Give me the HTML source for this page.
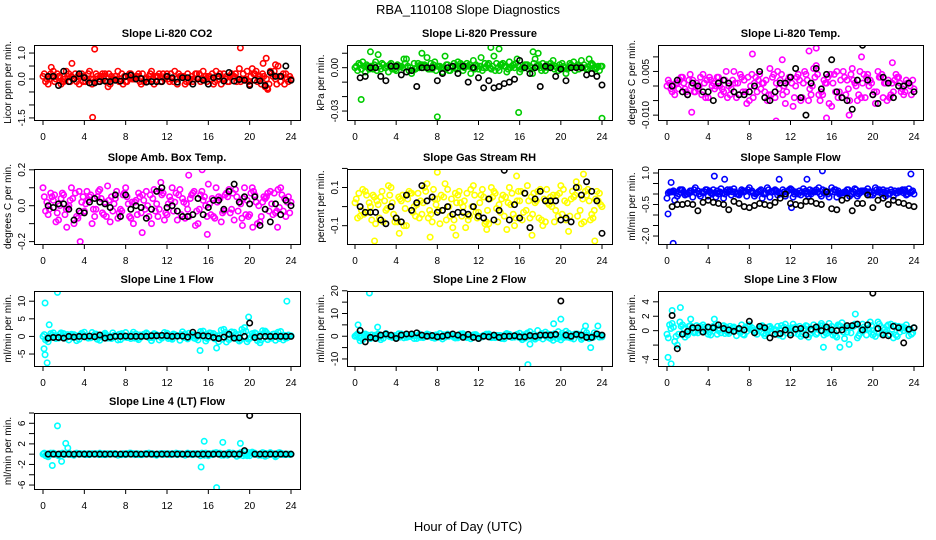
<!DOCTYPE html>
<html><head><meta charset="utf-8"><style>
html,body{margin:0;padding:0;background:#fff}
svg{display:block;font-family:"Liberation Sans",sans-serif}
</style></head><body>
<svg id="chart" width="936" height="540" viewBox="0 0 936 540">
<rect width="936" height="540" fill="#fff"/>
<text x="468" y="14" font-size="13" text-anchor="middle">RBA_110108  Slope Diagnostics</text>
<text x="468" y="531" font-size="13" text-anchor="middle">Hour of Day (UTC)</text>
</svg>
<script>
// ---- data: panel titles, y labels, colours ----
const titles = ["Slope Li-820 CO2","Slope Li-820 Pressure","Slope Li-820 Temp.","Slope Amb. Box Temp.","Slope Gas Stream RH","Slope Sample Flow","Slope Line 1 Flow","Slope Line 2 Flow","Slope Line 3 Flow","Slope Line 4 (LT) Flow"];
const yTitles = ["Licor ppm per min.","kPa per min.","degrees C per min.","degrees C per min.","percent per min.","ml/min per min.","ml/min per min.","ml/min per min.","ml/min per min.","ml/min per min."];
const colors = ["#ff0000","#00cc00","#ff00ff","#ff00ff","#ffff00","#0000ff","#00ffff","#00ffff","#00ffff","#00ffff"];
const xTicks = [0,4,8,12,16,20,24];
const yTicks = [[-1.5,-1,-0.5,0,0.5,1],[-0.03,-0.02,-0.01,0,0.01],[-0.01,-0.005,0,0.005,0.01],[-0.2,-0.1,0,0.1,0.2],[-0.1,0,0.1,0.2],[-2,-1.5,-1,-0.5,0,0.5,1],[-5,0,5,10],[-10,-5,0,5,10,15,20],[-4,-2,0,2,4],[-6,-4,-2,0,2,4,6,8]];
const yTickLabels = [["-1.5","","","0.0","","1.0"],["-0.03","","","0.00",""],["-0.010","","","0.005",""],["-0.2","","0.0","","0.2"],["-0.1","","0.1",""],["-2.0","","","-0.5","","","1.0"],["-5","0","5","10"],["-10","","0","","10","","20"],["-4","","0","2","4"],["-6","","-2","","2","","6",""]];
const yMin = [-1.58,-0.0362,-0.01167,-0.2134,-0.196,-2.38,-8.4,-13.1,-4.9,-6.77];
const yMax = [1.31,0.0157,0.01408,0.2045,0.197,1.19,12.9,19.9,5.5,8.0];

// ---- series: bandA at hours 0,0.5..24; bandB at 0.25..23.75; bandC at 0.125..; bandD at 0.375..; black at 0.5..24 ----
const bandA = [
[0.1,-0.2,0.3,0.1,-0.1,0.2,0.0,-0.2,0.1,0.3,-0.1,0.0,0.2,-0.2,0.1,0.0,-0.1,0.2,0.1,-0.2,0.0,0.3,0.1,-0.1,0.2,0.0,-0.2,0.1,0.2,-0.1,0.0,0.3,0.1,-0.2,0.0,0.2,-0.1,0.1,0.4,0.0,-0.2,0.2,0.1,-0.3,0.3,0.0,-0.1,0.2,0.0],
[0,0.002,-0.003,0.001,0.004,-0.001,0,0.003,-0.002,0.001,0.006,-0.004,0,0.002,0.007,-0.001,0.001,-0.003,0.002,0,0.004,-0.002,0.001,0.005,-0.001,0,0.003,0.008,-0.002,0.001,0.004,0,-0.003,0.002,0.001,0.006,0,-0.002,0.003,0.001,0,-0.004,0.002,0.001,0.005,-0.001,0.003,0,0.001],
[0,-0.002,0.001,0.003,-0.003,0.002,-0.001,0.004,-0.004,0.001,0.003,-0.002,0,0.005,-0.003,0.002,-0.005,0.001,0.004,-0.002,0.006,-0.004,0.002,-0.006,0.003,0,-0.005,0.004,-0.003,0.007,-0.002,0.001,-0.007,0.005,-0.004,0.002,0.006,-0.005,0.001,0.004,-0.003,0.005,-0.004,0.002,-0.002,0.003,-0.003,0.001,-0.001],
[0.1,-0.05,0.03,-0.08,0.06,0,-0.1,0.08,-0.03,0.05,-0.06,0.09,0.02,-0.09,0.04,-0.02,0.1,-0.07,0.03,-0.04,0.08,-0.1,0.01,0.06,-0.05,0.1,-0.08,0.04,-0.02,0.07,-0.1,0.03,0.12,-0.06,0.05,-0.03,0.09,-0.08,0.02,0.1,-0.05,0.06,-0.09,0.04,0.08,-0.04,0.1,-0.06,0.02],
[0.02,-0.05,0.08,0,-0.09,0.05,-0.02,0.1,-0.06,0.03,-0.1,0.07,0.01,-0.04,0.12,-0.08,0.04,-0.02,0.09,-0.11,0.06,0,-0.07,0.11,-0.03,0.05,-0.09,0.08,0.01,-0.05,0.1,-0.1,0.03,0.07,-0.06,0.02,0.09,-0.08,0.05,-0.02,0.11,-0.07,0.04,0.13,-0.09,0.06,-0.04,0.08,0],
[-0.2,0.1,-0.1,0.2,0,-0.15,0.15,0.05,-0.1,0.2,0,-0.2,0.1,0.25,-0.05,0.1,0.3,-0.1,0.15,0,-0.15,0.2,0.05,-0.1,0.25,0.1,-0.05,0.15,0,0.2,-0.1,0.1,0.3,-0.15,0.05,0.2,0,-0.1,0.15,0.25,-0.05,0.1,0.2,0,-0.1,0.15,0.05,0.25,0],
[0,-1.5,1,-0.5,0.8,-1,0.5,-0.8,1.2,-0.3,0.6,-1.1,0.9,-0.4,0.3,-0.9,1.1,-0.6,0.7,-0.2,1,-1.2,0.4,-0.5,0.9,-0.8,0.2,1.3,-0.7,0.5,-1,1.5,-0.4,0.8,-1.5,2,-0.9,1.2,-1.3,2.5,-0.6,1,-1.8,1.5,0.3,-1.1,1.4,-0.5,0.2],
[0,-2,1,-1,0.5,-1.5,1.2,0,-0.8,1,-0.5,0.8,-1,0.3,1,-0.6,0.5,-1.2,0.9,0,-0.7,1.1,-0.3,0.6,-1,0.4,1,-0.5,0.2,-1.1,0.8,-0.4,1.3,-0.9,2,-1.3,0.6,1.8,-1,0.5,-1.6,2.2,-0.8,1,-1.4,1.6,-0.5,0.9,-0.3],
[-0.5,1,-2,0.8,-0.6,0.5,-0.3,0.8,-0.5,0.6,0,0.7,-0.4,0.5,0.1,-0.6,0.8,-0.2,0.4,-0.7,0.6,0,-0.5,0.9,-0.3,0.5,-0.8,0.7,0.2,-0.5,1,-0.4,0.6,-0.9,1.1,-0.2,0.5,-1,0.9,0.3,-0.6,1.2,-0.3,0.8,-1,0.6,0,-0.7,0.4],
[0,-0.5,0.2,-0.3,0,0.2,-0.2,0,0.1,-0.1,0,0.2,-0.1,0,0.1,0,-0.1,0.2,0,-0.1,0.1,0,-0.2,0.1,0,0.1,-0.1,0,0.2,-0.1,0,0.1,-0.3,0.2,0,-0.2,0.3,0,-0.2,0.5,-0.3,0.2,0,-0.4,0.3,-0.5,0.2,-0.1,0]
];
const bandB = [
[-0.1,0.2,0.0,-0.2,0.3,0.1,-0.1,0.2,0.0,-0.2,0.1,0.2,-0.1,0.0,0.3,-0.2,0.1,0.0,0.2,-0.1,0.1,-0.2,0.2,0.0,-0.1,0.3,0.1,-0.2,0.0,0.2,-0.1,0.1,0.0,0.3,-0.2,0.1,0.2,-0.1,0.0,0.3,0.4,-0.1,0.2,-0.4,0.1,0.5,0.2,-0.1],
[-0.002,0.004,0.001,-0.001,0.009,0.002,-0.003,0,0.001,0.006,-0.002,0.003,0,0.002,-0.001,0.004,0.001,0.008,-0.002,0,0.003,0.001,-0.004,0.002,0.007,0,-0.001,0.003,0.002,-0.003,0.001,0.006,0,0.002,-0.004,0.001,0.003,0,0.005,-0.002,0.001,0,0.004,-0.001,0.002,0.006,0,-0.002],
[0.001,-0.003,0.002,-0.001,0.004,-0.002,0.003,-0.004,0.002,0,-0.003,0.005,-0.001,-0.004,0.003,-0.006,0.004,-0.002,0.001,-0.005,0.003,0.005,-0.003,0.002,-0.007,0.004,0.001,-0.005,0.006,-0.003,0.002,-0.006,0.004,-0.002,0.003,-0.005,0.001,0.005,-0.004,0.002,-0.006,0.003,0.001,-0.003,0.004,-0.002,0.002,-0.003],
[-0.03,0.07,-0.09,0.04,-0.02,0.1,-0.06,0.02,0.08,-0.1,0.05,-0.04,0.11,-0.03,-0.07,0.06,0.01,-0.1,0.07,0.03,-0.06,0.09,-0.02,-0.08,0.05,0.02,0.09,-0.07,0.04,-0.11,0.06,0,-0.05,0.1,-0.09,0.07,-0.02,0.05,-0.07,0.03,0.1,-0.1,0.02,0.07,-0.05,0.09,-0.03,0.05],
[-0.06,0.09,-0.03,0.06,0.01,-0.08,0.11,-0.04,0.05,-0.1,0.08,0,-0.06,0.1,-0.02,0.04,-0.09,0.12,-0.05,0.07,0.02,-0.11,0.09,-0.03,0.06,-0.08,0.1,-0.01,0.04,-0.12,0.07,0.03,-0.07,0.11,-0.04,0.08,-0.1,0.02,0.06,-0.05,0.09,-0.13,0.05,0.1,-0.08,0.03,-0.02,0.07],
[0.1,-0.3,0.2,-0.05,0.15,0.3,-0.1,0.2,0.05,-0.15,0.25,0.1,-0.05,0,0.2,-0.1,0.15,0.05,-0.2,0.3,0.1,-0.05,0.2,0.15,-0.15,0,0.25,-0.1,0.1,0.3,0.05,-0.15,0.2,0,0.1,-0.1,0.25,0.05,0.15,-0.05,0.3,0.1,-0.1,0.2,0.05,0.15,-0.05,0.1],
[-1,0.8,-0.6,1,-0.3,0.6,-1.2,0.9,-0.2,1.1,-0.8,0.3,-0.5,1,-1,0.4,-0.3,1.2,-0.9,0.6,-0.4,0.8,-1,1.1,-0.2,0.5,-1.1,0.7,0.2,-0.6,1.4,-1.3,0.9,-0.5,1.8,-1.6,1.3,-0.7,2,-1.5,0.8,-1.2,1.6,-0.9,0.6,1.2,-1,0.4],
[1,-1.5,0.5,-0.6,1,-0.9,0.4,-0.3,1.1,-0.7,0.2,-1,0.9,-0.2,0.6,-0.9,1.2,-0.4,0.3,-0.8,1,0,-1.1,0.7,-0.2,0.9,-0.6,0.4,-1,1.2,-0.5,0.8,-1.5,1.4,-0.7,2.5,-1.2,1,-1.8,2,-0.6,1.3,-1.2,0.8,2.3,-1,1.5,-0.4],
[0.8,-1.5,1.2,-0.9,0.7,-0.2,0.6,0,-0.6,0.9,-0.3,0.5,0.2,-0.7,0.8,-0.1,0.4,-0.5,0.7,0.1,-0.4,0.6,-0.8,0.3,0.9,-0.5,0.2,-0.9,0.8,0.4,-0.6,1,-0.3,0.7,-1.1,0.5,0.9,-0.4,0.2,1.2,-0.8,0.6,-0.2,0.9,-0.6,0.3,0.8,-0.5],
[-0.3,0.2,-0.1,0.1,0,-0.1,0.2,0,-0.1,0.1,0,-0.1,0.1,0,-0.2,0.1,0,0.1,-0.1,0,0.2,-0.1,0,0.1,-0.1,0,0.1,-0.2,0.1,0,-0.3,0.2,0,0.3,-0.2,0.1,0,-0.4,0.2,-0.3,0.4,-0.1,0.3,-0.2,0.1,0.2,-0.1,0]
];
const bandC = [
[0.2,0.0,-0.1,0.1,0.0,-0.1,0.2,0.1,-0.1,0.0,0.2,0.1,-0.1,0.1,0.0,0.2,-0.1,0.0,0.1,0.2,-0.1,0.0,0.1,0.2,0.0,-0.1,0.2,0.1,-0.1,0.0,0.2,0.0,0.1,-0.1,0.2,0.0,0.1,0.2,-0.1,0.0,0.1,0.3,-0.2,0.0,0.2,-0.2,0.1,0.0],
[0.001,-0.001,0.002,0,-0.002,0.003,0.001,-0.001,0.002,0,0.001,-0.002,0.003,0,-0.001,0.002,0.001,0,-0.002,0.003,0.001,0,0.002,-0.001,0.001,0.003,0,-0.002,0.002,0.001,0,0.003,-0.001,0.002,0,0.001,-0.002,0.002,0.001,0,0.003,-0.001,0.001,0.002,0,-0.001,0.002,0.001],
[0.002,0,-0.001,0.001,0.002,-0.002,0,0.001,0.003,-0.001,0,0.002,-0.003,0.001,0.004,-0.002,0,0.003,-0.001,0.002,-0.003,0.001,0.004,-0.002,0.001,0.003,-0.004,0.002,0,0.004,-0.003,0.003,0.001,-0.004,0.005,-0.001,0.002,-0.003,0.004,0,-0.002,0.003,0.001,-0.004,0.002,0.001,-0.002,0],
[0.05,-0.02,0.06,0,-0.05,0.03,0.07,-0.04,0.01,0.06,-0.02,0.04,-0.06,0.05,0.08,-0.03,0.05,0.02,-0.05,0.06,0,0.04,-0.06,0.07,0.01,-0.03,0.06,0.02,-0.06,0.08,-0.02,0.05,0.01,-0.07,0.04,0.06,-0.04,0.09,0.01,-0.05,0.07,0.02,-0.06,0.05,0.01,-0.03,0.06,0.02],
[0.04,-0.02,0.06,-0.07,0.03,0.08,-0.01,0.02,-0.08,0.06,0.04,-0.03,0.07,0.02,-0.06,0.09,-0.02,0.05,0,-0.07,0.08,0.03,-0.05,0.06,0.02,-0.09,0.04,0.07,-0.03,0.05,0.01,-0.06,0.08,-0.02,0.05,0.03,-0.07,0.09,0,0.06,-0.04,0.02,0.08,-0.05,0.04,0.09,-0.06,0.03],
[0.05,0.15,0,0.1,0.05,0.2,0,0.1,0.15,0.05,0.1,0,0.2,0.1,0.05,0.15,0.1,0,0.2,0.05,0.1,0.15,0,0.1,0.2,0.05,0.1,0,0.15,0.1,0.2,0,0.1,0.15,0.05,0.2,0.1,0,0.15,0.1,0.05,0.2,0.1,0,0.15,0.1,0.2,0.05],
[0.5,-0.4,0.2,0.6,-0.5,0.3,-0.2,0.5,0,-0.4,0.7,-0.1,0.4,-0.6,0.2,0.8,-0.3,0.5,-0.5,0.1,0.6,-0.4,0.3,0,-0.6,0.7,0.1,-0.3,0.9,-0.5,0.4,-0.2,1,-0.7,0.3,1.2,-0.4,0.6,-0.9,1.5,-0.3,0.8,-1,1.1,-0.5,0.5,0.2,-0.4],
[0.5,-0.8,0.3,0.6,-0.4,0.2,0.7,-0.5,0,0.6,-0.3,0.4,0.1,-0.6,0.5,0.2,-0.4,0.6,0,-0.5,0.4,0.3,-0.2,0.7,-0.4,0.1,0.5,-0.6,0.3,0.8,-0.2,0.5,-0.8,0.9,0.1,-0.6,1.2,-0.3,0.7,-1,1.3,-0.4,0.6,1,-0.7,0.4,-0.5,0.8],
[-1,0.5,-0.5,0.3,0.6,-0.3,0.2,0.5,-0.2,0.4,0.3,-0.4,0.6,0,-0.3,0.5,0.2,-0.2,0.6,-0.4,0.3,0.1,0.7,-0.3,0.4,0.2,-0.5,0.6,0,-0.3,0.7,0.2,-0.6,0.8,-0.2,0.4,0.6,-0.7,0.5,0.2,-0.4,0.9,0.1,-0.5,0.7,-0.2,0.4,0.2],
[0.2,-0.2,0.1,0,-0.1,0.1,0,0.1,-0.1,0,0.1,0,-0.1,0.1,0,-0.1,0.1,0,0.1,-0.1,0,0.1,0,-0.1,0.1,0,0.1,-0.1,0,0.1,0,-0.2,0.1,0,0.2,-0.1,0.1,0,0.3,-0.2,0.2,0,-0.2,0.1,0,-0.3,0.1,0]
];
const bandD = [
[0.0,0.1,0.2,-0.1,0.1,0.0,0.1,-0.1,0.2,0.0,-0.1,0.1,0.2,0.0,-0.1,0.1,0.2,0.0,-0.1,0.0,0.2,0.1,-0.1,0.1,0.2,0.0,0.1,-0.1,0.1,0.2,0.0,-0.1,0.2,0.1,0.0,-0.1,0.1,0.0,0.2,-0.1,0.2,0.0,0.1,-0.2,0.3,0.1,-0.2,0.1],
[0.003,0.001,-0.001,0.002,0.001,0,0.002,-0.001,0.001,0.003,0,-0.001,0.002,0.001,0.003,-0.002,0,0.002,0.001,-0.001,0.002,0.003,0,0.001,-0.002,0.002,0.001,0,0.003,-0.001,0.002,0.001,0,-0.001,0.003,0.002,0,0.001,-0.001,0.002,0,0.003,-0.002,0.001,0,0.002,-0.001,0.001],
[-0.001,0.001,0.003,-0.002,0,0.001,-0.003,0.002,0,0.003,-0.001,-0.004,0.002,0.001,-0.002,0.003,-0.004,0.002,0.001,-0.003,0.004,-0.001,0,0.003,-0.004,0.002,0.005,-0.001,0.003,-0.005,0.001,0.004,-0.002,0.002,-0.003,0.004,0,-0.004,0.003,0.001,-0.002,0.004,-0.005,0.001,0.003,-0.001,0.001,0.002],
[0.02,0.05,-0.04,0.07,-0.01,0.04,-0.07,0.05,0.03,-0.02,0.08,-0.05,0.03,0.01,-0.04,0.07,-0.06,0.02,0.05,-0.02,0.06,-0.03,0.08,-0.04,0.03,0.07,-0.05,0.01,0.06,-0.03,0.08,-0.06,0.04,0.02,-0.04,0.05,0.07,-0.03,0.04,-0.06,0.08,0,0.05,-0.03,0.07,-0.01,0.04,-0.04],
[0.07,-0.04,0.02,0.05,-0.06,0.03,0.06,-0.08,0.04,-0.01,0.07,-0.05,0.03,0.08,-0.04,0.01,0.06,-0.07,0.04,0.02,-0.05,0.07,0,-0.06,0.09,-0.02,0.05,-0.08,0.06,0.02,-0.04,0.08,-0.03,0.03,0.07,-0.06,0.04,0.01,-0.08,0.07,0.03,-0.05,0.06,-0.02,0.08,-0.07,0.04,0.01],
[0.1,0.05,0.2,0,0.15,0.05,0.1,0.2,0,0.15,0.05,0.2,0.1,0,0.15,0.2,0.05,0.1,0,0.2,0.15,0.05,0.1,0.2,0,0.15,0.05,0.2,0.1,0,0.15,0.1,0.2,0.05,0.1,0,0.2,0.15,0.05,0.1,0.2,0,0.15,0.1,0.05,0.2,0,0.15],
[-0.6,0.4,-0.2,0.3,0.5,-0.3,0.1,0.6,-0.5,0.2,-0.2,0.5,-0.4,0.3,0.6,-0.2,0.1,-0.5,0.4,0.2,-0.3,0.6,-0.1,0.4,-0.5,0.2,0.5,-0.4,0.3,-0.2,0.8,-0.6,0.4,0.2,-0.8,0.9,-0.3,0.5,1.2,-0.8,0.4,-0.5,0.9,-0.2,0.7,-0.6,0.3,0.1],
[-0.6,0.4,-0.3,0.2,-0.5,0.6,-0.2,0.3,-0.4,0.5,-0.1,0.2,-0.5,0.4,-0.2,0.6,-0.3,0.1,0.5,-0.4,0.2,-0.6,0.4,0.1,-0.3,0.6,-0.2,0.3,-0.5,0.7,0.1,-0.4,0.6,-0.3,0.9,-0.5,0.4,-0.7,1.1,-0.4,0.8,-0.6,1,-0.3,0.5,-0.8,0.6,0.2],
[0.3,-0.8,0.6,-0.4,0.2,0.7,-0.1,0.4,0.3,-0.5,0.6,-0.2,0.4,0.1,-0.5,0.6,0,0.3,-0.4,0.5,0.2,-0.6,0.5,0.1,-0.3,0.6,0.3,-0.5,0.4,0.7,-0.2,0.3,-0.7,0.6,0.4,-0.3,0.8,0.1,-0.6,0.7,0.3,-0.5,0.6,0.2,-0.8,0.5,0.1,-0.3],
[0,0.1,-0.1,0.2,0,-0.1,0.1,0,0.1,0,-0.1,0.1,0,0.1,-0.1,0,0.2,-0.1,0,0.1,0,-0.1,0.1,0,-0.1,0.2,0,0.1,-0.1,0.1,0.2,0,-0.1,0.2,0,-0.2,0.2,0.1,-0.3,0.3,0,-0.2,0.2,0,-0.2,0.3,0,-0.1]
];
const blackVals = [
[0.1,0.1,-0.25,0.3,-0.1,0.0,0.2,0.05,-0.15,-0.15,-0.1,-0.08,-0.1,-0.05,-0.08,0.1,0.15,0.0,0.02,-0.12,-0.1,-0.1,-0.1,0.1,0.05,-0.12,0.05,0.05,-0.2,0.0,-0.05,-0.2,0.05,0.1,-0.08,0.25,-0.08,-0.02,-0.05,-0.25,-0.05,-0.07,-0.25,0.25,0.1,0.1,0.5,-0.05],
[-0.007,-0.006,0,0,-0.006,-0.009,0.001,0.001,-0.005,-0.003,-0.002,-0.013,0,0,0,-0.009,-0.004,0,0.001,-0.004,0.001,-0.01,0,-0.007,-0.014,-0.009,-0.014,-0.013,-0.011,-0.01,-0.008,0.005,0,-0.004,0,-0.013,0.001,0,-0.006,-0.001,-0.009,0,0,0,-0.005,-0.004,-0.006,-0.012],
[0,0.002,-0.002,-0.003,0.001,0,-0.002,-0.002,-0.005,0.001,0.002,0.001,-0.002,-0.003,-0.003,-0.002,0,0.005,-0.004,-0.005,-0.002,0.001,0.001,0.003,0.006,-0.004,-0.01,0.001,0.006,-0.001,0.004,0.009,-0.002,-0.004,-0.005,-0.008,0.002,0.014,0.002,-0.003,-0.006,0.003,0.001,-0.004,0,0,0.001,-0.002],
[0,-0.01,0.01,0.01,-0.02,-0.08,-0.03,-0.04,0.02,0.04,0.02,0.01,-0.01,0.06,-0.06,0.06,-0.02,0,-0.01,-0.07,-0.02,0.08,0.1,-0.01,0,-0.03,-0.06,-0.06,-0.05,0.04,-0.05,-0.01,0.03,0.03,-0.02,0.08,0.12,0.02,0.05,0.01,0.05,-0.11,-0.02,-0.09,0.01,-0.05,0.03,0],
[0,-0.03,-0.03,-0.03,-0.07,-0.09,0,-0.06,-0.08,0.06,-0.02,0.02,0.11,0.03,0.05,-0.03,-0.02,0,-0.04,-0.03,-0.03,-0.04,0,-0.05,-0.06,0.04,-0.07,-0.02,0.19,-0.07,0.01,-0.06,0.07,-0.11,0.04,0.08,0.03,0.03,0.03,-0.07,-0.06,-0.08,0.1,0.06,0.13,0.08,0.03,-0.14],
[-0.6,-0.5,-0.5,-0.45,-0.5,-0.8,-0.4,-0.3,-0.4,-0.45,-0.5,-0.75,-0.35,-0.45,-0.6,-0.65,-0.55,-0.45,-0.5,-0.55,-0.4,-0.2,0,-0.45,-0.5,-0.55,-0.35,-0.35,-0.45,-0.5,0.1,-0.7,-0.75,-0.3,-0.2,-0.8,-0.45,-0.45,-0.05,-0.65,-0.3,-0.2,-0.5,-0.3,-0.4,-0.45,-0.55,-0.6],
[-0.5,-0.3,-0.3,-0.5,0,-0.2,0,-0.1,0.1,-0.1,0.4,-0.5,-0.2,0,0,0.1,0,0,0,0,0.2,0.2,0.3,0.2,0,0.1,0.1,-0.2,1.2,0.3,0.2,0.1,-0.3,-0.6,-0.2,0.6,-0.5,-0.4,0,3.8,-0.3,0,0,0,0,0,0,0],
[2.5,-2.5,-0.5,-1,0.5,1,0.5,-1,0.5,1,1,1.5,0.5,0,0.3,-0.3,0,0.5,1,0.5,-0.5,0.8,-0.5,-1,0,-0.3,0.5,-0.5,0,0,0.2,-0.3,-0.3,0.3,0,0.5,0.5,0.5,0.8,15.5,0.5,0,0.8,0.5,-0.5,-0.5,1,0.5],
[2.1,-2.5,-0.5,-0.1,0.4,0.4,-0.2,0.5,0.4,0.8,0.3,0.1,-0.1,0.3,0.1,1.3,-0.3,0.6,0.4,-1,-0.5,-0.4,0.1,-0.6,0.2,0.3,-0.6,0.2,0.5,0,0.5,0.1,0,0.1,0.7,0.7,0.9,0.1,0.8,5.2,0.3,-0.6,-0.7,0.6,0.4,-1.7,0.2,0.4],
[0,0,0,0,0,0,0,0,0,0,0,0,0,0,0,0,0,0,0,0,0,0,0,0,0,0,0,0,0,0,0,0,0,0,0,0,0,0,0.7,7.5,0,0,0,0,0,0,0,0]
];
const outH = [
[5.0,4.8,19.1,2.8,21.3,21.6,22.5,0.8,21.7,6.3],
[0.6,8,15.9,24,1.5,6.5,13.2,14,17.3,17.8],
[10.6,15.5,17.7,13.8,14.5,18.9,8.3,21.9,11.2,2.4],
[3.6,15.4,15.9,14.1,9.6,2.3,19.3,22.7,20.3,11.4],
[1.9,23.3,8.0,7.3,15.7,22.2,4.3,9.8,17.2,12.8],
[0.1,0.6,15.1,23.7,4.6,5.6,10.9,13.6,12.1,0.4],
[0.2,1.4,23.6,0.1,0.2,0.4,15.2,16.8,19.9,0.6],
[1.4,0.3,16.8,20.0,19.3,22.4,22.9,23.6,2.2,17.0],
[0.1,0.4,0.5,1.3,2.3,4.6,15.2,16.8,17.7,18.3],
[1.4,0.9,2.2,2.4,15.3,15.6,16.8,17.4,19.1,1.8]
];
const outV = [
[1.15,-1.48,1.2,0.6,0.6,0.8,0.55,0.45,-0.35,-0.3],
[-0.022,-0.034,-0.031,-0.035,0.011,0.01,0.014,0.013,0.011,0.01],
[-0.012,-0.011,-0.01,0.012,0.013,0.01,0.011,0.008,0.009,-0.009],
[-0.2,0.2,-0.16,0.17,-0.15,-0.12,-0.11,-0.12,-0.12,0.13],
[-0.18,-0.18,0.18,-0.16,0.16,0.17,-0.14,-0.15,-0.15,-0.12],
[-0.95,-2.35,1.1,0.95,0.85,0.7,0.7,0.7,-0.65,0.55],
[9.5,12.5,10,-3.5,-5.2,-7.5,-4,-3.3,5.5,3.3],
[19,5,-12.5,7.5,5.5,4.5,-5,4.5,4,-3.5],
[-3.7,-4.6,2.8,3.2,1.6,1.6,-2.3,-2.3,-1.9,2.3],
[5.5,-2.2,2.1,1.2,-2.5,2.5,-6.5,2.3,2.1,-1.4]
];

// ---- layout ----
const NS = "http://www.w3.org/2000/svg";
const svg = document.getElementById('chart');
const colBox = [[34,300,43,291],[347,612,355,602],[658,923,667,914]];
const rowBox = [[45,120],[169,244],[291,366],[413,489]];
function mk(tag, attrs, parent){
  const e = document.createElementNS(NS, tag);
  for (const k in attrs) e.setAttribute(k, attrs[k]);
  (parent||svg).appendChild(e);
  return e;
}
for (let p = 0; p < titles.length; p++) {
  const c = colBox[p % 3], r = rowBox[Math.floor(p / 3)];
  const [L, R, x0, x24] = c, [T, B] = r;
  const xs = h => x0 + (x24 - x0) * h / 24;
  const ys = v => B - (v - yMin[p]) / (yMax[p] - yMin[p]) * (B - T);
  const g = mk('g', {});
  
  
  const t = mk('text', {x: (L + R) / 2, y: T - 8, 'font-size': 11, 'font-weight': 'bold', 'text-anchor': 'middle'}, g);
  t.textContent = titles[p];
  
  
  const yt = mk('text', {x: 0, y: 0, 'font-size': 10, 'text-anchor': 'middle', transform: `translate(${L - 23},${(T + B) / 2}) rotate(-90)`}, g);
  yt.textContent = yTitles[p];
  
  
  mk('line', {x1: xs(0), x2: xs(24), y1: B + 0.5, y2: B + 0.5, stroke: '#000'}, g);
  xTicks.forEach(h => {
    const x = xs(h);
    mk('line', {x1: x, x2: x, y1: B, y2: B + 5, stroke: '#000'}, g);
    const tl = mk('text', {x: x, y: B + 20, 'font-size': 10, 'text-anchor': 'middle'}, g);
    tl.textContent = h;
    
    
  });
  const tk = yTicks[p];
  mk('line', {x1: L + 0.5, x2: L + 0.5, y1: ys(tk[0]), y2: ys(tk[tk.length - 1]), stroke: '#000'}, g);
  tk.forEach((v, i) => {
    const y = ys(v);
    mk('line', {x1: L - 5, x2: L, y1: y, y2: y, stroke: '#000'}, g);
    if (yTickLabels[p][i]) {
      const tl = mk('text', {x: 0, y: 0, 'font-size': 10, 'text-anchor': 'middle', transform: `translate(${L - 9},${y}) rotate(-90)`}, g);
      tl.textContent = yTickLabels[p][i];
      
      
    }
  });
  const clipId = 'clip' + p;
  const cp = mk('clipPath', {id: clipId}, g);
  mk('rect', {x: L, y: T, width: R - L, height: B - T}, cp);
  const pg = mk('g', {'clip-path': `url(#${clipId})`, fill: 'none', 'stroke-width': 1.6}, g);
  const dot = (h, v, col, nm) => {
    const ci = mk('circle', {cx: xs(h), cy: ys(v), r: 2.7, stroke: col}, pg);
    
    
  };
  bandA[p].forEach((v, i) => dot(i * 0.5, v, colors[p], 'point'));
  bandB[p].forEach((v, i) => dot(0.25 + i * 0.5, v, colors[p], 'point'));
  bandC[p].forEach((v, i) => dot(0.125 + i * 0.5, v, colors[p], 'point'));
  bandD[p].forEach((v, i) => dot(0.375 + i * 0.5, v, colors[p], 'point'));
  outH[p].forEach((h, i) => dot(h, outV[p][i], colors[p], 'outlier-point'));
  blackVals[p].forEach((v, i) => dot(0.5 + i * 0.5, v, '#000', 'black-point'));
  const bx = mk('rect', {x: L + 0.5, y: T + 0.5, width: R - L, height: B - T, fill: 'none', stroke: '#000'}, g);
  
  
}
</script>
</body></html>
